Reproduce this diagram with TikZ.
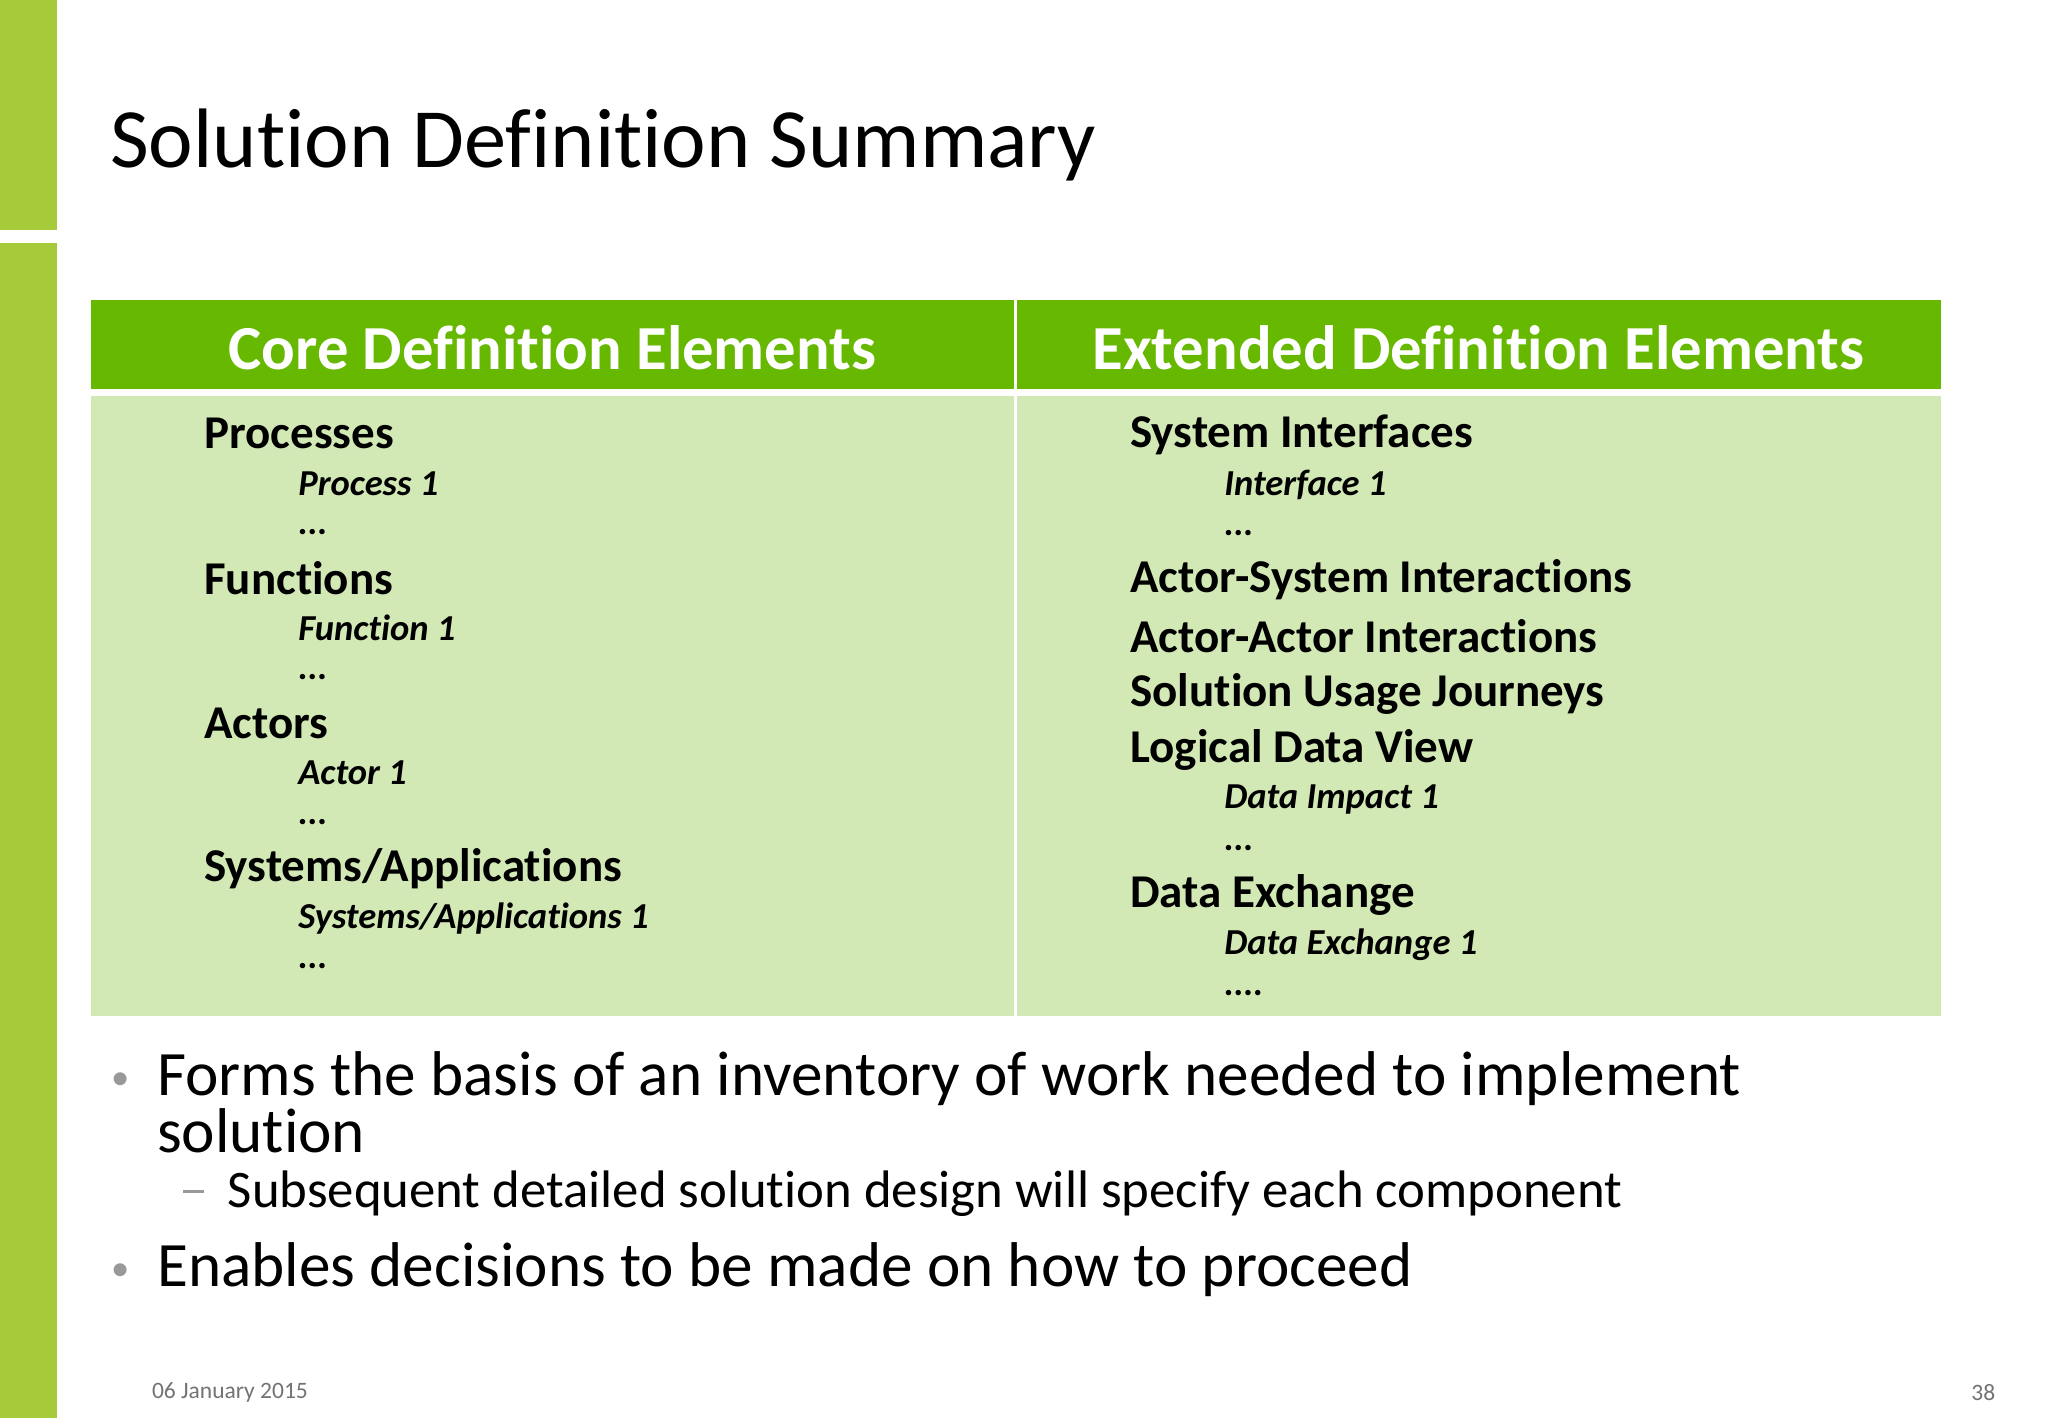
\documentclass[tikz,border=0pt]{standalone}
\usepackage{fontspec}
\setmainfont{Carlito}[Ligatures=NoCommon]
\begin{document}
\begin{tikzpicture}[x=0.5pt,y=-0.5pt,
 hd/.style={anchor=west,font=\fontsize{18}{20}\selectfont\bfseries,inner sep=0pt},
 it/.style={anchor=west,font=\fontsize{14}{16}\selectfont\bfseries\itshape,inner sep=0pt},
 th/.style={font=\fontsize{24}{27}\selectfont\bfseries,text=white,inner sep=0pt},
 bl/.style={anchor=west,font=\fontsize{24.2}{26}\selectfont,inner sep=0pt},
 dt/.style={font=\fontsize{14}{16}\selectfont,text=black!40,inner sep=0pt},
 ft/.style={font=\fontsize{9}{10}\selectfont,text=black!55,inner sep=0pt}]
\definecolor{bar}{HTML}{A6CA3A}\definecolor{hdr}{HTML}{66B800}\definecolor{bod}{HTML}{D2E9B6}
\useasboundingbox (0,0) rectangle (1568,1086);
\fill[white] (0,0) rectangle (1568,1086);
\fill[bar] (0,0) rectangle (44,176);
\fill[bar] (0,186) rectangle (44,1086);
\node[anchor=base west,inner sep=0pt,font=\fontsize{32.3}{36}\selectfont] (title) at (84,128) {Solution Definition Summary};
\fill[hdr] (70,230) rectangle (1486,298);
\fill[bod] (70,303) rectangle (1486,778);
\fill[white] (776,230) rectangle (779,778);
\fill[white] (70,298) rectangle (1486,303);
\node[th] (h1) at (423,266) {Core Definition Elements};
\node[th] (h2) at (1132,266) {Extended Definition Elements};
\node[hd] (a1) at (156,332) {Processes};
\node[it] (a2) at (228,370) {Process 1};
\node[it] (a3) at (228,407) {...};
\node[hd] (a4) at (156,443) {Functions};
\node[it] (a5) at (228,481) {Function 1};
\node[it] (a6) at (228,518) {...};
\node[hd] (a7) at (156,554) {Actors};
\node[it] (a8) at (228,592) {Actor 1};
\node[it] (a9) at (228,629) {...};
\node[hd] (a10) at (156,665) {Systems/Applications};
\node[it] (a11) at (228,703) {Systems/Applications 1};
\node[it] (a12) at (228,740) {...};
\node[hd] (b1) at (865,333) {System Interfaces};
\node[it] (b2) at (937,371) {Interface 1};
\node[it] (b3) at (937,408) {...};
\node[hd] (b4) at (865,444) {Actor-System Interactions};
\node[hd] (b5) at (865,487) {Actor-Actor Interactions};
\node[hd] (b6) at (865,531) {Solution Usage Journeys};
\node[hd] (b7) at (865,574) {Logical Data View};
\node[it] (b8) at (937,612) {Data Impact 1};
\node[it] (b9) at (937,649) {...};
\node[hd] (b10) at (865,685) {Data Exchange};
\node[it] (b11) at (937,723) {Data Exchange 1};
\node[it] (b12) at (937,760) {....};
\node[dt] (d1) at (92,828) {•};
\node[bl] (c1) at (120,826) {Forms the basis of an inventory of work needed to implement};
\node[bl] (c2) at (120,866) {solution};
\fill[black!40] (140,911) rectangle (156,913);
\node[bl,font=\fontsize{20.2}{22}\selectfont] (c3) at (174,914) {Subsequent detailed solution design will specify each component};
\node[dt] (d3) at (92,974) {•};
\node[bl] (c4) at (120,972) {Enables decisions to be made on how to proceed};
\node[ft,anchor=west] (f1) at (116,1066) {06 January 2015};
\node[ft,anchor=east] (f2) at (1528,1066) {38};
\end{tikzpicture}
\end{document}
